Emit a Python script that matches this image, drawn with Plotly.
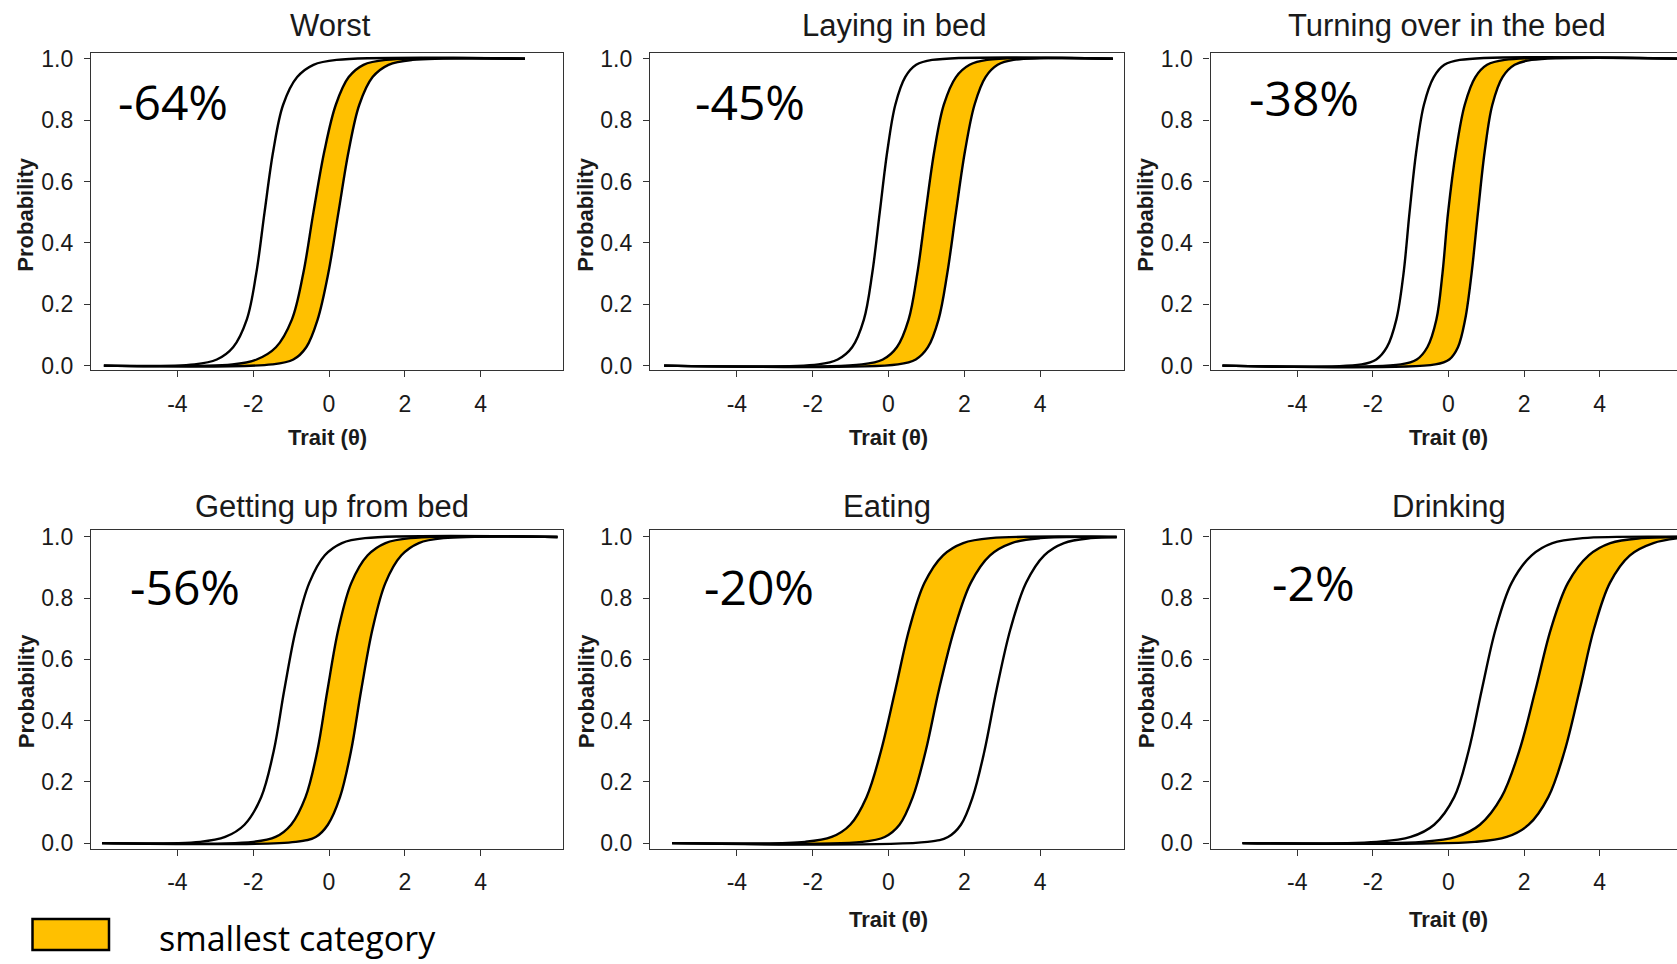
import plotly.graph_objects as go

# ---------------- data ----------------
PANEL_TITLES = ["Worst", "Laying in bed", "Turning over in the bed",
                "Getting up from bed", "Eating", "Drinking"]
PERCENT_LABELS = ["-64%", "-45%", "-38%", "-56%", "-20%", "-2%"]

# probability levels at which the trait value (theta) of each curve was read
PROB_LEVELS = [0.0, 0.004, 0.02, 0.06, 0.15, 0.3, 0.5, 0.7, 0.85, 0.94, 0.98, 0.996, 1.0]

# theta of the left curve at each probability level, one list per panel
CURVE_A = [
    [-5.94, -3.55, -2.96, -2.53, -2.17, -1.92, -1.70, -1.47, -1.21, -0.84, -0.41, 0.20, 5.17],
    [-5.92, -1.85, -1.34, -0.96, -0.65, -0.43, -0.23, -0.03, 0.18, 0.44, 0.73, 1.15, 5.92],
    [-5.98, -2.30, -1.91, -1.63, -1.38, -1.19, -1.03, -0.85, -0.65, -0.39, -0.11, 0.30, 6.10],
    [-5.99, -3.40, -2.74, -2.23, -1.79, -1.46, -1.18, -0.87, -0.52, -0.11, 0.34, 0.95, 6.03],
    [-5.71, -2.20, -1.50, -1.01, -0.58, -0.20, 0.18, 0.55, 0.95, 1.44, 1.97, 2.70, 6.02],
    [-5.45, -1.90, -1.00, -0.38, 0.15, 0.53, 0.88, 1.25, 1.67, 2.20, 2.75, 3.55, 6.60],
]
# theta of the middle curve
CURVE_B = [
    [-5.94, -2.55, -1.91, -1.40, -0.98, -0.68, -0.41, -0.12, 0.18, 0.52, 0.91, 1.50, 5.17],
    [-5.92, -0.70, -0.15, 0.22, 0.53, 0.76, 0.98, 1.21, 1.46, 1.78, 2.14, 2.60, 5.92],
    [-5.98, -1.26, -0.84, -0.56, -0.32, -0.16, -0.01, 0.20, 0.43, 0.71, 1.02, 1.49, 6.10],
    [-5.99, -2.00, -1.41, -1.00, -0.62, -0.31, -0.04, 0.25, 0.59, 1.02, 1.49, 2.15, 6.03],
    [-5.71, -0.70, -0.10, 0.29, 0.64, 0.98, 1.33, 1.74, 2.17, 2.68, 3.25, 4.00, 6.02],
    [-5.45, -0.70, 0.20, 0.83, 1.40, 1.87, 2.30, 2.71, 3.16, 3.71, 4.28, 5.10, 6.60],
]
# theta of the right curve
CURVE_C = [
    [-5.94, -1.50, -0.94, -0.60, -0.30, -0.02, 0.25, 0.52, 0.80, 1.15, 1.57, 2.20, 5.17],
    [-5.92, 0.25, 0.72, 1.04, 1.32, 1.55, 1.78, 2.02, 2.27, 2.56, 2.88, 3.30, 5.92],
    [-5.98, -0.35, 0.02, 0.25, 0.44, 0.61, 0.78, 0.96, 1.16, 1.43, 1.75, 2.20, 6.10],
    [-5.99, -0.88, -0.35, -0.03, 0.29, 0.58, 0.85, 1.15, 1.49, 1.91, 2.37, 3.02, 6.03],
    [-5.71, 1.03, 1.57, 1.91, 2.22, 2.53, 2.85, 3.22, 3.63, 4.11, 4.63, 5.33, 6.02],
    [-5.45, 0.70, 1.54, 2.12, 2.64, 3.07, 3.47, 3.85, 4.27, 4.80, 5.42, 6.10, 6.60],
]
# which pair of curves bounds the "smallest category" band (0=A, 1=B, 2=C)
SMALLEST_BAND = [(1, 2), (1, 2), (1, 2), (1, 2), (0, 1), (1, 2)]

X_TICKS = [-4, -2, 0, 2, 4]
X_TICK_LABELS = ["-4", "-2", "0", "2", "4"]
Y_TICKS = [0.0, 0.2, 0.4, 0.6, 0.8, 1.0]
Y_TICK_LABELS = ["0.0", "0.2", "0.4", "0.6", "0.8", "1.0"]
LEGEND_LABEL = "smallest category"

# ---------------- layout geometry (pixels in a 1677 x 964 page) ----------------
W, H = 1677, 964
GOLD = "#FFC000"
AXC = "#333333"
TXT = "#1a1a1a"
SANS = "Liberation Sans, Arial, sans-serif"
HUMAN = "Open Sans, Noto Sans, sans-serif"

# column: box left px, box right px, px of theta=0, px per theta unit
COLS = [(91, 563, 329.0, 37.9), (650, 1124, 888.5, 37.9), (1210.6, 1677, 1448.5, 37.8)]
# row: box top px, box bottom px, px of p=1, px of p=0
ROWS = [(47, 369, 52.5, 364.3), (531.7, 855, 538.3, 849.3)]
TITLE_POS = [(330, 19), (894, 19), (1447, 19), (332, 507.5), (887, 507.5), (1449, 507.5)]
PCT_POS = [(116, 96.5), (693, 95.5), (1247, 92), (128, 589), (702, 589), (1270, 585)]
YLAB_X = [26, 586, 1146]
YLAB_Y = [211, 695]
XLAB_X = [327, 888, 1448]
XLAB_Y = [437, 927]


def px(x):
    return x / W


def py(y):
    return 1 - y / H


fig = go.Figure()
layout = dict(width=W, height=H, margin=dict(l=0, r=0, t=0, b=0),
              paper_bgcolor="white", plot_bgcolor="white", showlegend=False)
annotations = []

for i in range(6):
    r, c = divmod(i, 3)
    suffix = "" if i == 0 else str(i + 1)
    xa, ya = "x" + suffix, "y" + suffix
    curves = [CURVE_A[i], CURVE_B[i], CURVE_C[i]]
    lo, hi = SMALLEST_BAND[i]
    spline = dict(shape="spline", smoothing=1.0)

    fig.add_trace(go.Scatter(x=curves[lo], y=PROB_LEVELS, mode="lines",
                             line=dict(width=0, color=GOLD, **spline),
                             xaxis=xa, yaxis=ya, hoverinfo="skip"))
    fig.add_trace(go.Scatter(x=curves[hi], y=PROB_LEVELS, mode="lines",
                             fill="tonexty", fillcolor=GOLD,
                             line=dict(width=0, color=GOLD, **spline),
                             xaxis=xa, yaxis=ya, hoverinfo="skip"))
    for cv in curves:
        fig.add_trace(go.Scatter(x=cv, y=PROB_LEVELS, mode="lines",
                                 line=dict(width=2.4, color="black", **spline),
                                 xaxis=xa, yaxis=ya))

    bl, br, x0, ux = COLS[c]
    bt, bb, y1, y0 = ROWS[r]
    uy = y0 - y1
    common = dict(showgrid=False, zeroline=False, showline=True, linecolor=AXC,
                  linewidth=1.3, ticks="outside", ticklen=6, tickwidth=1.3,
                  tickcolor=AXC, tickfont=dict(family=SANS, size=23, color=TXT))
    layout["xaxis" + suffix] = dict(
        domain=[px(bl), px(br)], range=[(bl - x0) / ux, (br - x0) / ux],
        anchor=ya, tickvals=X_TICKS, ticktext=X_TICK_LABELS, mirror=True,
        ticklabelstandoff=7, **common)
    layout["yaxis" + suffix] = dict(
        domain=[py(bb), py(bt)], range=[(y0 - bb) / uy, (y0 - bt) / uy],
        anchor=xa, tickvals=Y_TICKS, ticktext=Y_TICK_LABELS, mirror=(c != 2),
        ticklabelstandoff=6, **common)

    tx, ty = TITLE_POS[i]
    annotations.append(dict(x=px(tx), y=py(ty), xref="paper", yref="paper",
                            text=PANEL_TITLES[i], showarrow=False,
                            xanchor="center", yanchor="middle",
                            font=dict(family=SANS, size=31, color=TXT)))
    qx, qy = PCT_POS[i]
    annotations.append(dict(x=px(qx), y=py(qy), xref="paper", yref="paper",
                            text=PERCENT_LABELS[i], showarrow=False,
                            xanchor="left", yanchor="middle",
                            font=dict(family=HUMAN, size=48, color="black")))
    annotations.append(dict(x=px(YLAB_X[c]), y=py(YLAB_Y[r]), xref="paper", yref="paper",
                            text="<b>Probability</b>", showarrow=False, textangle=-90,
                            xanchor="center", yanchor="middle",
                            font=dict(family=SANS, size=22, color=TXT)))
    if not (r == 1 and c == 0):
        annotations.append(dict(x=px(XLAB_X[c]), y=py(XLAB_Y[r]), xref="paper", yref="paper",
                                text="<b>Trait (θ)</b>", showarrow=False,
                                xanchor="center", yanchor="middle",
                                font=dict(family=SANS, size=22, color=TXT)))

# legend
annotations.append(dict(x=px(157), y=py(946), xref="paper", yref="paper",
                        text=LEGEND_LABEL, showarrow=False,
                        xanchor="left", yanchor="middle",
                        font=dict(family=HUMAN, size=34, color="black")))
layout["shapes"] = [dict(type="rect", xref="paper", yref="paper",
                         x0=px(32.5), x1=px(109), y0=py(958), y1=py(926.5),
                         fillcolor=GOLD, line=dict(color="black", width=2.5))]
layout["annotations"] = annotations
fig.update_layout(**layout)
fig.write_html("out.html")
